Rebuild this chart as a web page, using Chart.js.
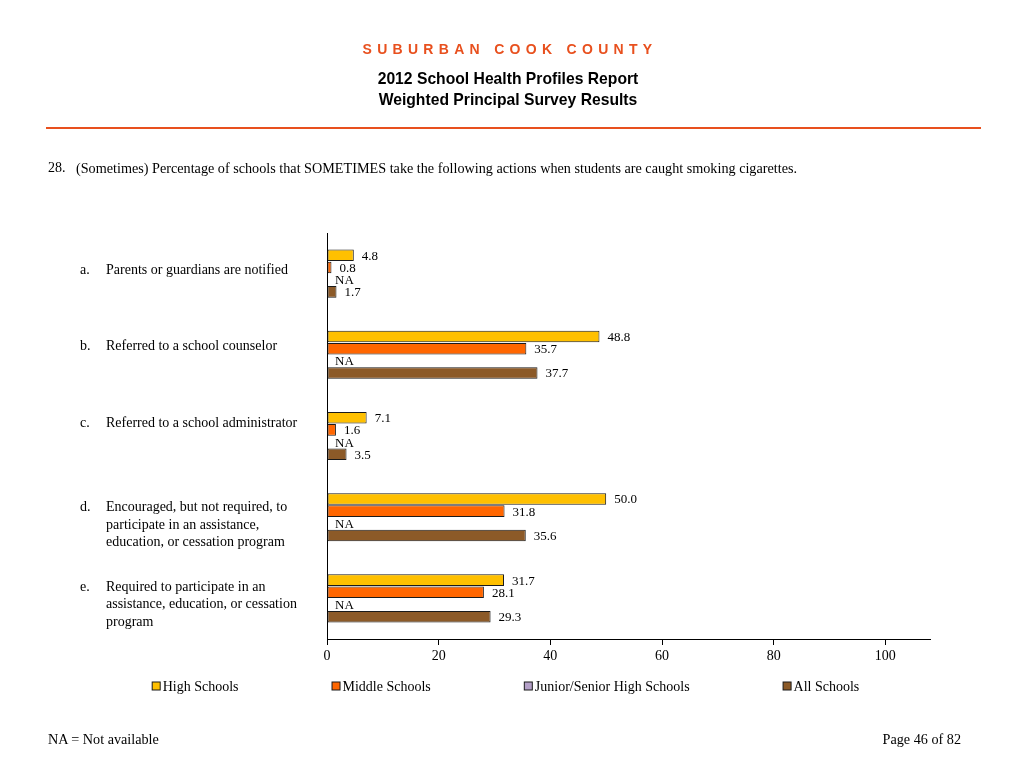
<!DOCTYPE html>
<html>
<head>
<meta charset="utf-8">
<script src="https://cdn.jsdelivr.net/npm/chart.js@4.4.0/dist/chart.umd.min.js"></script>
<style>
  html, body { margin:0; padding:0; background:#fff; }
  body { width:1024px; height:768px; position:relative; overflow:hidden; }
  #wrap { position:absolute; left:0; top:0; width:1024px; height:768px; }
  .t { position:absolute; white-space:nowrap; }
  #county { left:-2px; width:1024px; top:41px; text-align:center; font:bold 14px "Liberation Sans", Arial, sans-serif; color:#E8501E; letter-spacing:5.3px; }
  #title1 { left:-4px; width:1024px; top:70px; text-align:center; font:bold 15.7px "Liberation Sans", Arial, sans-serif; color:#000; }
  #title2 { left:-4px; width:1024px; top:91px; text-align:center; font:bold 15.7px "Liberation Sans", Arial, sans-serif; color:#000; }
  #rule { position:absolute; left:46px; width:935px; top:127px; height:2px; background:#E8501E; }
  .serif { font:14px "Liberation Serif", "Times New Roman", serif; color:#000; }
  #q { font-size:14.2px; }
</style>
</head>
<body>
<div id="wrap"><canvas id="c" width="1024" height="768"></canvas></div>
<div class="t" id="county">SUBURBAN COOK COUNTY</div>
<div class="t" id="title1">2012 School Health Profiles Report</div>
<div class="t" id="title2">Weighted Principal Survey Results</div>
<div id="rule"></div>
<div class="t serif" style="left:48px; top:160px;">28.</div>
<div class="t serif" id="q" style="left:76px; top:160px;">(Sometimes) Percentage of schools that SOMETIMES take the following actions when students are caught smoking cigarettes.</div>
<div class="t serif" style="left:48px; top:731px; font-size:14.2px;">NA = Not available</div>
<div class="t serif" style="right:63px; top:731px; font-size:14.2px;">Page 46 of 82</div>
<script>
const categoryLetters = ["a.", "b.", "c.", "d.", "e."];
const categoryLabels = [
  ["Parents or guardians are notified"],
  ["Referred to a school counselor"],
  ["Referred to a school administrator"],
  ["Encouraged, but not required, to", "participate in an assistance,", "education, or cessation program"],
  ["Required to participate in an", "assistance, education, or cessation", "program"]
];
const seriesNames = ["High Schools", "Middle Schools", "Junior/Senior High Schools", "All Schools"];
const highSchools = [4.8, 48.8, 7.1, 50.0, 31.7];
const middleSchools = [0.8, 35.7, 1.6, 31.8, 28.1];
const juniorSeniorHighSchools = [null, null, null, null, null];
const allSchools = [1.7, 37.7, 3.5, 35.6, 29.3];
const xTicks = [0, 20, 40, 60, 80, 100];

const colors = ["#FFC000", "#FF6600", "#B4A0C8", "#8C5A28"];
const labelOffsets = [-3, -8, -13, 8, 6];

const serif = '"Liberation Serif", "Times New Roman", serif';

const extrasPlugin = {
  id: 'extras',
  afterDatasetsDraw(chart) {
    const ctx = chart.ctx;
    const xs = chart.scales.x, ys = chart.scales.y;
    ctx.save();
    ctx.font = '13px ' + serif;
    ctx.fillStyle = '#000';
    ctx.textBaseline = 'middle';
    ctx.textAlign = 'left';
    chart.data.datasets.forEach((ds, di) => {
      const meta = chart.getDatasetMeta(di);
      meta.data.forEach((el, i) => {
        const v = ds.data[i];
        const y = el.y;
        if (v === null || v === undefined) {
          ctx.fillText('NA', xs.getPixelForValue(0) + 8, y + 1);
        } else {
          ctx.fillText(v.toFixed(1), el.x + 8, y + 1);
        }
      });
    });
    // category labels
    ctx.font = '14px ' + serif;
    const lh = 17.5;
    categoryLabels.forEach((lines, i) => {
      const cy = ys.getPixelForValue(i) + labelOffsets[i];
      const y0 = cy - (lines.length - 1) * lh / 2;
      ctx.fillText(categoryLetters[i], 80, y0);
      lines.forEach((ln, k) => ctx.fillText(ln, 106, y0 + k * lh));
    });
    // legend
    ctx.font = '14px ' + serif;
    const box = 9, gapText = 2, gapItem = 93;
    const widths = chart.data.datasets.map(ds => box + gapText + ctx.measureText(ds.label).width);
    const total = widths.reduce((a, b) => a + b, 0) + gapItem * (widths.length - 1);
    let lx = 505.5 - total / 2;
    const ly = chart.chartArea.bottom + 47;
    chart.data.datasets.forEach((ds, di) => {
      ctx.fillStyle = ds.backgroundColor;
      ctx.fillRect(lx + 0.5, ly - box / 2 + 0.5, box - 1, box - 1);
      ctx.strokeStyle = '#1a1a1a';
      ctx.lineWidth = 1;
      ctx.strokeRect(lx + 0.5, ly - box / 2 + 0.5, box - 1, box - 1);
      ctx.fillStyle = '#000';
      ctx.fillText(ds.label, lx + box + gapText, ly + 1);
      lx += widths[di] + gapItem;
    });
    ctx.restore();
  }
};

const datasets = [highSchools, middleSchools, juniorSeniorHighSchools, allSchools].map((d, i) => ({
  label: seriesNames[i],
  data: d,
  backgroundColor: colors[i],
  borderColor: '#1a1a1a',
  borderWidth: 1,
  borderSkipped: false,
  categoryPercentage: 0.6,
  barPercentage: 0.95
}));

new Chart(document.getElementById('c'), {
  type: 'bar',
  data: { labels: categoryLetters, datasets },
  plugins: [extrasPlugin],
  options: {
    indexAxis: 'y',
    responsive: false,
    animation: false,
    devicePixelRatio: 1,
    layout: { padding: { left: 327, right: 94, top: 233, bottom: 99 } },
    plugins: {
      tooltip: { enabled: false },
      legend: { display: false }
    },
    scales: {
      x: {
        min: 0, max: 108,
        afterBuildTicks(scale) { scale.ticks = xTicks.map(v => ({ value: v })); },
        afterFit(scale) { scale.height = 30; },
        ticks: { color: '#000', font: { family: serif, size: 14 }, padding: 3 },
        grid: { drawOnChartArea: false, drawTicks: true, tickLength: 6, color: '#000' },
        border: { display: true, color: '#000', width: 1 }
      },
      y: {
        afterFit(scale) { scale.width = 0; },
        ticks: { display: false },
        grid: { display: false },
        border: { display: true, color: '#000', width: 1 }
      }
    }
  }
});
</script>
</body>
</html>
